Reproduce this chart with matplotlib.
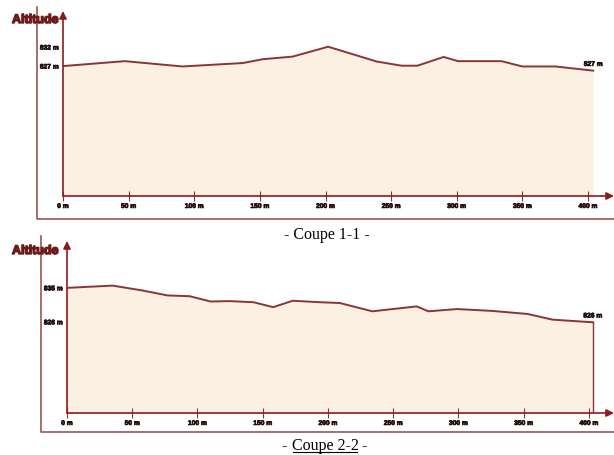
import matplotlib
matplotlib.use("Agg")
import matplotlib.pyplot as plt
from matplotlib import font_manager
from matplotlib.lines import Line2D
import matplotlib.patheffects as pe

# ---------------- data ----------------
dist1 = [0, 47, 91, 137, 152, 175, 202, 239, 258, 270, 290, 301, 334, 350, 375, 404]
alt1 = [827.0, 828.3, 826.9, 827.8, 828.8, 829.5, 832.1, 828.2, 827.1, 827.1,
        829.4, 828.3, 828.3, 826.9, 826.9, 825.8]
dist2 = [0, 35, 58, 77, 94, 110, 125, 143, 158, 173, 194, 209, 234, 268, 277,
         299, 326, 353, 372, 403]
alt2 = [835.0, 835.6, 834.3, 833.0, 832.8, 831.4, 831.5, 831.2, 829.9, 831.6,
        831.2, 831.0, 828.8, 830.1, 828.8, 829.4, 828.9, 828.1, 826.6, 825.9]
x_ticks = [0, 50, 100, 150, 200, 250, 300, 350, 400]
x_tick_labels = ["0 m", "50 m", "100 m", "150 m", "200 m", "250 m", "300 m", "350 m", "400 m"]
y_ticks1 = [827, 832]
y_tick_labels1 = ["827 m", "832 m"]
end_label1 = "827 m"
y_ticks2 = [826, 835]
y_tick_labels2 = ["826 m", "835 m"]
end_label2 = "826 m"
axis_title = "Altitude"
caption1 = "- Coupe 1-1 -"
caption2_parts = ["- ", "Coupe 2-2", " -"]

# ---------------- style ----------------
W, H = 614, 456
FILL = "#fbf0e2"
LINE = "#8a3535"
AXIS = "#8b1c1c"
FRAME = "#9a5555"
TITLE_C = "#6e1a1a"
TXT = "#241010"


def has_font(name):
    try:
        font_manager.findfont(font_manager.FontProperties(family=name),
                              fallback_to_default=False)
        return True
    except Exception:
        return False


if has_font("Liberation Sans Narrow"):
    NARROW = ["Liberation Sans Narrow", "DejaVu Sans"]
    title_size, tick_size = 10.5, 5.5
else:
    NARROW = ["Liberation Sans", "DejaVu Sans"]
    title_size, tick_size = 9.0, 4.8
SERIF = ["Liberation Serif", "DejaVu Serif"]

fig = plt.figure(figsize=(W / 100, H / 100), dpi=100)
fig.patch.set_facecolor("white")


def px_rect(left, top, right, bottom):
    return [left / W, 1 - bottom / H, (right - left) / W, (bottom - top) / H]


def fig_line(xs, ys, **kw):
    fig.add_artist(Line2D([x / W for x in xs], [1 - y / H for y in ys],
                          transform=fig.transFigure, **kw))


tick_fx = [pe.withStroke(linewidth=0.5, foreground=TXT)]


def panel(rect, xlim, ylim, dist, alt, yt, ytl, endlab, drop):
    ax = fig.add_axes(px_rect(*rect))
    ax.set_xlim(*xlim)
    ax.set_ylim(*ylim)
    ax.patch.set_alpha(0)
    for s in ax.spines.values():
        s.set_visible(False)
    ax.fill_between(dist, alt, ylim[0], color=FILL, lw=0, zorder=1)
    ax.plot(dist, alt, color=LINE, lw=1.4, zorder=3, solid_joinstyle="round")
    if drop:
        ax.plot([dist[-1], dist[-1]], [alt[-1], ylim[0]], color=LINE, lw=1.0, zorder=3)
    # axes with arrows
    ax.annotate("", xy=(1, 0), xytext=(0, 0), xycoords="axes fraction",
                annotation_clip=False,
                arrowprops=dict(arrowstyle="-|>", color=AXIS, lw=1.2,
                                mutation_scale=11, shrinkA=0, shrinkB=0))
    ax.annotate("", xy=(0, 1), xytext=(0, 0), xycoords="axes fraction",
                annotation_clip=False,
                arrowprops=dict(arrowstyle="-|>", color=AXIS, lw=1.2,
                                mutation_scale=11, shrinkA=0, shrinkB=0))
    ax.set_xticks(x_ticks)
    ax.set_xticklabels(x_tick_labels)
    ax.set_yticks(yt)
    ax.set_yticklabels(ytl)
    ax.tick_params(axis="x", direction="inout", length=7, width=0.8, color=LINE,
                   pad=1.5, labelsize=tick_size, labelcolor=TXT)
    ax.tick_params(axis="y", length=0, pad=3, labelsize=tick_size, labelcolor=TXT)
    for lab in ax.get_xticklabels() + ax.get_yticklabels():
        lab.set_family(NARROW)
        lab.set_fontweight("bold")
        lab.set_path_effects(tick_fx)
    ax.annotate(endlab, xy=(dist[-1], alt[-1]), xytext=(0, 2),
                textcoords="offset points", ha="center", va="bottom",
                fontsize=tick_size, fontweight="bold", family=NARROW, color=TXT,
                path_effects=tick_fx)
    return ax


# panel 1
panel((63, 12, 614, 197), (0, 419.8), (792.8, 841.5), dist1, alt1,
      y_ticks1, y_tick_labels1, end_label1, False)
# panel 2
panel((67, 242, 614, 414), (0, 419.2), (801.9, 847.4), dist2, alt2,
      y_ticks2, y_tick_labels2, end_label2, True)

# frames
fig_line([37, 37, 614], [8, 220, 220], color=FRAME, lw=1.2)
fig_line([41, 41, 614], [237, 433, 433], color=FRAME, lw=1.2)

# axis titles
title_fx = [pe.withStroke(linewidth=1.0, foreground=TITLE_C)]
fig.text(12 / W, 1 - 21 / H, axis_title, ha="left", va="center", fontsize=title_size,
         fontweight="heavy", family=NARROW, color=TITLE_C, path_effects=title_fx)
fig.text(12 / W, 1 - 252 / H, axis_title, ha="left", va="center", fontsize=title_size,
         fontweight="heavy", family=NARROW, color=TITLE_C, path_effects=title_fx)

# captions
fig.text(327 / W, 1 - 235 / H, caption1, ha="center", va="center", fontsize=11.5,
         family=SERIF, color="black")

fig.canvas.draw()
r = fig.canvas.get_renderer()
tmp = [fig.text(0, 0, p, fontsize=11.5, family=SERIF) for p in caption2_parts]
widths = [t.get_window_extent(r).width for t in tmp]
for t in tmp:
    t.remove()
total = sum(widths)
cx, cy = 325, 446
x0 = cx - total / 2
xs = [x0, x0 + widths[0], x0 + widths[0] + widths[1]]
for p, x in zip(caption2_parts, xs):
    fig.text(x / W, 1 - cy / H, p, ha="left", va="center", fontsize=11.5,
             family=SERIF, color="black")
fig_line([xs[1] + 1, xs[2] - 1], [cy + 7, cy + 7], color="black", lw=0.8)

fig.savefig("out.png", dpi=100)
